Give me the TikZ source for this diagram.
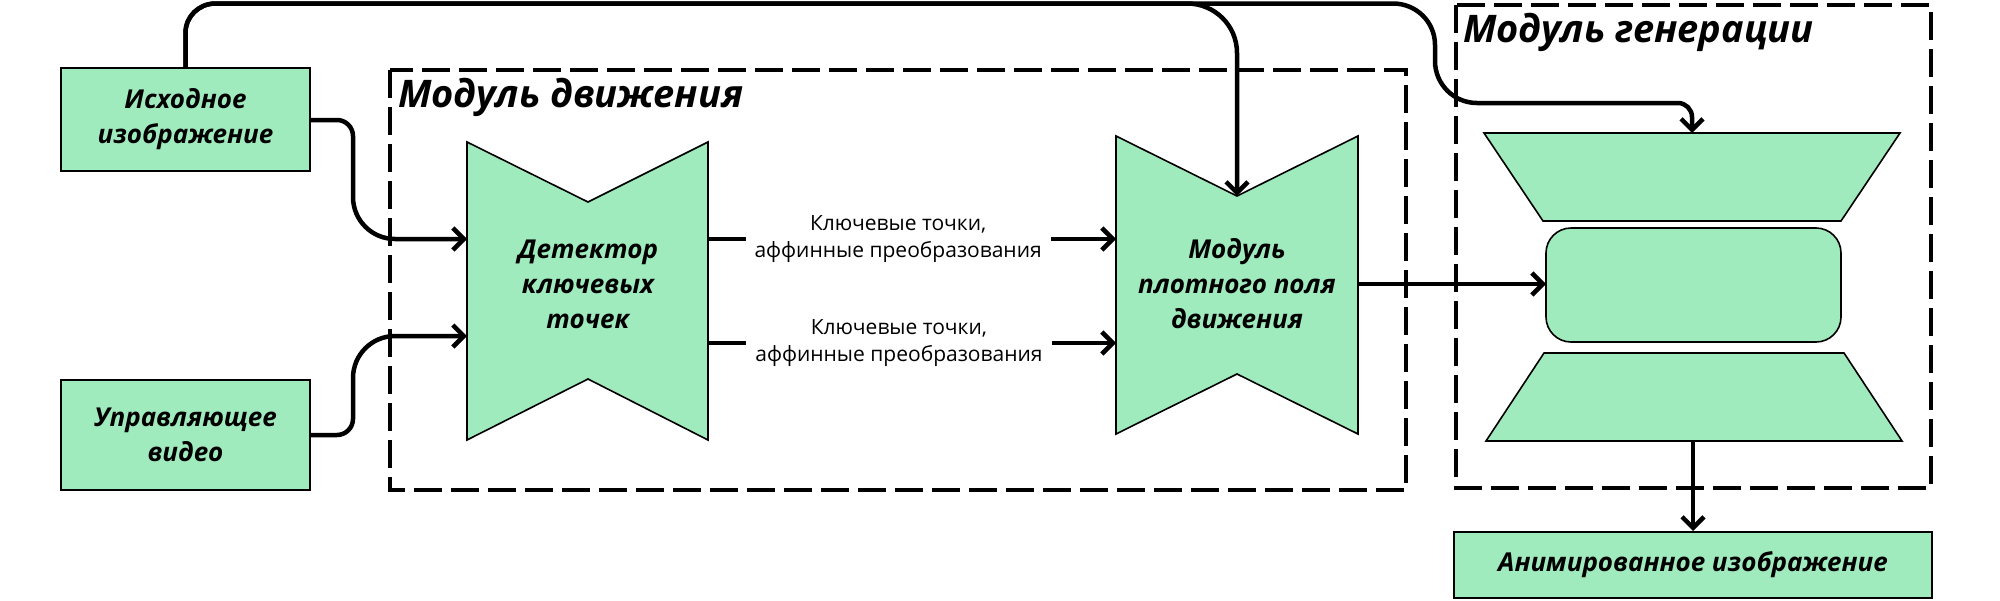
\documentclass[tikz,border=0pt]{standalone}
\usepackage{fontspec}
\setmainfont{Open Sans}
\usetikzlibrary{arrows.meta}
\definecolor{boxgreen}{RGB}{160,235,190}
\tikzset{
  shapefill/.style={fill=boxgreen, draw=black, line width=1.6pt, line join=miter},
  iobox/.style={shapefill, line width=2pt, align=center, inner sep=0pt,
    font=\fontsize{26}{35}\selectfont\bfseries\itshape},
  intext/.style={align=center, inner sep=0pt, font=\fontsize{26}{35}\selectfont\bfseries\itshape},
  conn/.style={line width=4.5pt, -{Straight Barb[length=11pt,width=22pt,line width=4.5pt]}},
  wire/.style={line width=4.5pt},
  module/.style={draw, line width=4pt, dash pattern=on 28pt off 9pt},
  modtitle/.style={anchor=base west, inner sep=0pt, font=\fontsize{38}{44}\selectfont\bfseries\itshape},
  lbl/.style={align=center, fill=white, inner xsep=9pt, inner ysep=2pt, font=\fontsize{21}{27}\selectfont},
}
\begin{document}
\begin{tikzpicture}[x=1pt,y=-1pt]
\useasboundingbox (0,0) rectangle (2000,600);

% module frames
\draw[module] (390,70) rectangle (1406,490);
\draw[module] (1456,5) rectangle (1931,488);
\node[modtitle] (t1) at (398,107) {Модуль движения};
\node[modtitle] (t2) at (1463,42) {Модуль генерации};

% input / output boxes
\node[iobox, minimum width=249pt, minimum height=103pt] (src) at (185.5,119.5) {Исходное\\изображение};
\node[iobox, minimum width=249pt, minimum height=110pt] (drv) at (185.5,435) {Управляющее\\видео};
\node[iobox, minimum width=478pt, minimum height=66pt] (out) at (1693,565) {Анимированное изображение};

% keypoint detector
\draw[shapefill] (467,142) -- (588,202) -- (708,142) -- (708,440) -- (588,379) -- (467,440) -- cycle;
\node[intext] (det) at (588,284) {Детектор\\ключевых\\точек};
\coordinate (detin1) at (467,239);
\coordinate (detin2) at (467,336);
\coordinate (detout1) at (708,239);
\coordinate (detout2) at (708,343);

% dense motion
\draw[shapefill] (1116,136) -- (1237,196) -- (1358,136) -- (1358,434) -- (1237,374) -- (1116,434) -- cycle;
\node[intext] (dense) at (1237,284) {Модуль\\плотного поля\\движения};
\coordinate (densetop) at (1237,196);
\coordinate (densein1) at (1116,239);
\coordinate (densein2) at (1116,343);
\coordinate (denseout) at (1358,284);

% generator
\draw[shapefill] (1484,133) -- (1900,133) -- (1841,221) -- (1543,221) -- cycle;
\draw[shapefill, rounded corners=25pt] (1546,228) rectangle (1841,342);
\draw[shapefill] (1544,353) -- (1844,353) -- (1902,441) -- (1486,441) -- cycle;
\coordinate (gentop) at (1692,133);
\coordinate (genin) at (1546,284);
\coordinate (genbot) at (1693,441);

% connectors
\draw[conn] (src.east |- 0,120) -- (337,120) .. controls (345.8,120) and (353,127.2) .. (353,136)
  -- (353,197) .. controls (353,220.2) and (371.8,239) .. (395,239) -- (detin1);
\draw[conn] (drv.east) -- (337,435) .. controls (345.8,435) and (353,427.8) .. (353,419)
  -- (353,378) .. controls (353,354.8) and (371.8,336) .. (395,336) -- (detin2);

\draw[conn] (src.north) -- (185.5,33) .. controls (185.5,16.4) and (198.9,3.5) .. (215.5,3.5)
  -- (1187,3.5) .. controls (1214.6,3.5) and (1237,25.4) .. (1237,53) -- (densetop);
\draw[conn] (src.north) -- (185.5,33) .. controls (185.5,16.4) and (198.9,3.5) .. (215.5,3.5)
  -- (1393,3.5) .. controls (1416.2,3.5) and (1435,21.8) .. (1435,45)
  -- (1435,61) .. controls (1435,84.2) and (1453.8,103) .. (1477,103)
  -- (1678,103) .. controls (1685.7,103) and (1692,109.3) .. (1692,117) -- (gentop);

\draw[conn] (detout1) -- (densein1) node[lbl, pos=0.466] (l1) {Ключевые точки,\\аффинные преобразования};
\draw[conn] (detout2) -- (densein2) node[lbl, pos=0.468] (l2) {Ключевые точки,\\аффинные преобразования};

\draw[conn] (denseout) -- (genin);
\draw[conn] (genbot) -- (out.north);
\end{tikzpicture}
\end{document}
